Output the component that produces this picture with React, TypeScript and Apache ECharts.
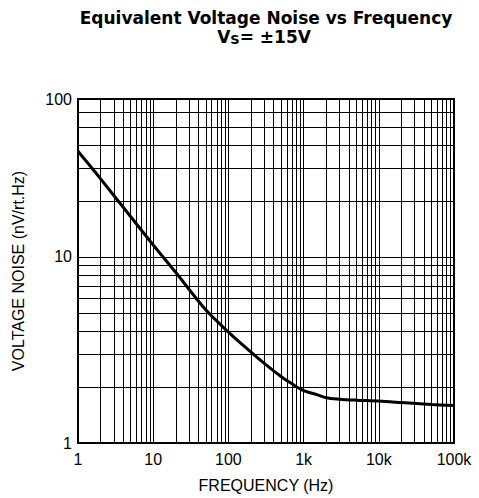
import React, { useEffect, useRef } from "react";
import * as echarts from "echarts";

const frequencies = [1, 2, 5, 10, 20, 50, 100, 200, 300, 500, 700, 1000, 1500, 2000, 3000, 5000, 10000, 20000, 50000, 100000];
const noise = [37, 26.3, 16.5, 11.6, 8.25, 5.2, 3.95, 3.08, 2.68, 2.28, 2.08, 1.91, 1.82, 1.75, 1.72, 1.7, 1.68, 1.65, 1.61, 1.59];

const xGridValues = [
  1, 2, 3, 4, 5, 6, 7, 8, 9,
  10, 20, 30, 40, 50, 60, 70, 80, 90,
  100, 200, 300, 400, 500, 600, 700, 800, 900,
  1000, 2000, 3000, 4000, 5000, 6000, 7000, 8000, 9000,
  10000, 20000, 30000, 40000, 50000, 60000, 70000, 80000, 90000,
  100000,
];
const yGridValues = [1, 2, 3, 4, 5, 6, 7, 8, 9, 10, 20, 30, 40, 50, 60];

const xTickValues = [1, 10, 100, 1000, 10000, 100000];
const xTickLabels = ["1", "10", "100", "1k", "10k", "100k"];
const yTickValues = [1, 10, 70.6];
const yTickLabels = ["1", "10", "100"];

const xMin = 1;
const xMax = 100000;
const yMin = 1;
const yMax = 70.7;

const FONT = "'Liberation Sans', Arial, Helvetica, sans-serif";

function nearestLabel(values: number[], labels: string[], v: number) {
  let best = 0;
  let bestD = Infinity;
  values.forEach((t, i) => {
    const d = Math.abs(Math.log10(t) - Math.log10(v));
    if (d < bestD) {
      bestD = d;
      best = i;
    }
  });
  return labels[best];
}

export default function App() {
  const ref = useRef<HTMLDivElement>(null);
  useEffect(() => {
    const chart = echarts.init(ref.current!, null, { renderer: "svg" });
    chart.setOption({
      animation: false,
      backgroundColor: "#fff",
      grid: {
        left: 78,
        right: 25,
        top: 99,
        bottom: 55,
        show: true,
        borderColor: "#000",
        borderWidth: 2,
        backgroundColor: "transparent",
        containLabel: false,
      },
      xAxis: {
        type: "log",
        logBase: 10,
        min: xMin,
        max: xMax,
        name: "FREQUENCY (Hz)",
        nameLocation: "middle",
        nameGap: 34,
        nameTextStyle: { color: "#000", fontSize: 16, fontFamily: FONT },
        axisLine: { show: false },
        axisTick: { show: false, customValues: xGridValues },
        splitLine: { show: true, lineStyle: { color: "#000", width: 1 } },
        minorSplitLine: { show: false },
        axisLabel: {
          customValues: xTickValues,
          color: "#000",
          fontSize: 16,
          fontFamily: FONT,
          margin: 8,
          formatter: (v: number) => nearestLabel(xTickValues, xTickLabels, v),
        },
      },
      yAxis: {
        type: "log",
        logBase: 10,
        min: yMin,
        max: yMax,
        name: "VOLTAGE NOISE (nV/rt.Hz)",
        nameLocation: "middle",
        nameGap: 52,
        nameTextStyle: { color: "#000", fontSize: 16, fontFamily: FONT },
        axisLine: { show: false },
        axisTick: { show: false, customValues: yGridValues },
        splitLine: { show: true, lineStyle: { color: "#000", width: 1 } },
        axisLabel: {
          customValues: yTickValues,
          color: "#000",
          fontSize: 16,
          fontFamily: FONT,
          margin: 6,
          formatter: (v: number) => nearestLabel(yTickValues, yTickLabels, v),
        },
      },
      graphic: [
        {
          type: "text",
          x: 266,
          y: 18,
          style: {
            text: "Equivalent Voltage Noise vs Frequency",
            font: "bold 17px 'DejaVu Sans'",
            fill: "#000",
            textAlign: "center",
            textVerticalAlign: "middle",
            align: "center",
            verticalAlign: "middle",
          },
        },
        {
          type: "text",
          x: 264,
          y: 37,
          style: {
            text: "{a|V}{s|S}{a|= ±15V}",
            fill: "#000",
            textAlign: "center",
            textVerticalAlign: "middle",
            align: "center",
            verticalAlign: "middle",
            rich: {
              a: { fontSize: 17, fontWeight: "bold", fontFamily: "DejaVu Sans", lineHeight: 17, fill: "#000", color: "#000" },
              s: { fontSize: 13, fontWeight: "bold", fontFamily: "DejaVu Sans", lineHeight: 6, verticalAlign: "bottom", fill: "#000", color: "#000" },
            },
          },
        },
      ],
      series: [
        {
          type: "line",
          data: frequencies.map((f, i) => [f, noise[i]]),
          showSymbol: false,
          smooth: 0.3,
          lineStyle: { color: "#000", width: 3 },
          itemStyle: { color: "#000" },
          z: 5,
        },
      ],
    });
    return () => chart.dispose();
  }, []);
  return <div ref={ref} style={{ position: "absolute", left: 0, top: 0, width: 479, height: 498 }} />;
}
